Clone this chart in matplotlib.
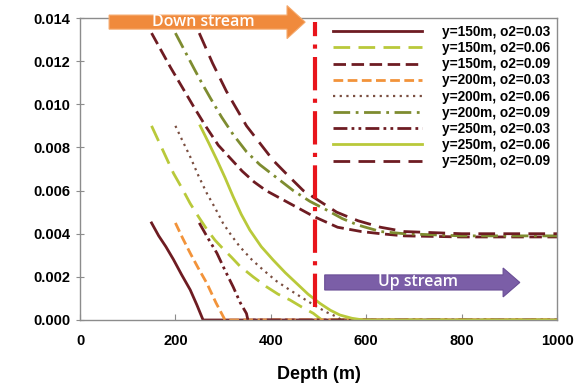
import matplotlib
matplotlib.use("Agg")
import matplotlib.pyplot as plt
from matplotlib.patches import FancyArrow

plt.rcParams['font.family'] = ['Liberation Sans', 'DejaVu Sans']

labels = ["y=150m, o2=0.03", "y=150m, o2=0.06", "y=150m, o2=0.09",
          "y=200m, o2=0.03", "y=200m, o2=0.06", "y=200m, o2=0.09",
          "y=250m, o2=0.03", "y=250m, o2=0.06", "y=250m, o2=0.09"]

d1 = [150, 165, 180, 196, 213, 231, 245, 258, 1000]
v1 = [0.0045, 0.0039, 0.0034, 0.0028, 0.0021, 0.0014, 0.0007, 0.0, 0.0]
d2 = [150, 173, 196, 214, 231, 248, 266, 283, 300, 318, 335, 363, 391, 415, 440, 465, 489, 507, 1000]
v2 = [0.0090, 0.0079, 0.0068, 0.0061, 0.0054, 0.0048, 0.0042, 0.0037, 0.0033, 0.0029, 0.0025,
      0.0020, 0.00154, 0.0012, 0.00093, 0.0006, 0.00031, 0.0, 0.0]
d3 = [150, 170, 190, 214, 238, 263, 290, 315, 340, 365, 390, 415, 440, 465, 490, 515, 540, 565,
      590, 630, 680, 800, 1000]
v3 = [0.0133, 0.0125, 0.0117, 0.0108, 0.0099, 0.0090, 0.0081, 0.0075, 0.0069, 0.0064, 0.0060,
      0.0057, 0.0054, 0.0051, 0.0048, 0.00455, 0.0043, 0.0042, 0.0041, 0.0040, 0.0039, 0.00385, 0.00385]
d4 = [200, 215, 231, 248, 266, 285, 304, 1000]
v4 = [0.0045, 0.0038, 0.0031, 0.0024, 0.0017, 0.0008, 0.0, 0.0]
d5 = [200, 215, 231, 248, 266, 283, 300, 318, 335, 360, 384, 412, 440, 468, 496, 518, 538, 548, 1000]
v5 = [0.0090, 0.0083, 0.00757, 0.0067, 0.00587, 0.0052, 0.00448, 0.0039, 0.0034, 0.0028, 0.00232,
      0.0018, 0.00139, 0.0010, 0.00062, 0.00035, 0.00015, 0.0, 0.0]
d6 = [200, 219, 238, 255, 273, 297, 321, 349, 377, 412, 447, 482, 517, 550, 583, 630, 680, 800, 1000]
v6 = [0.0133, 0.0125, 0.0117, 0.0110, 0.0103, 0.0094, 0.0086, 0.0078, 0.0072, 0.0066, 0.0060,
      0.0055, 0.0051, 0.0047, 0.0044, 0.0041, 0.0040, 0.0039, 0.0039]
d7 = [250, 268, 287, 304, 321, 336, 349, 352, 1000]
v7 = [0.0045, 0.0038, 0.0031, 0.0023, 0.00154, 0.0008, 0.0003, 0.0, 0.0]
d8 = [252, 270, 287, 304, 321, 338, 356, 380, 405, 430, 454, 478, 503, 525, 545, 570, 594, 1000]
v8 = [0.0090, 0.0082, 0.00742, 0.0066, 0.00572, 0.0049, 0.00417, 0.0034, 0.00278, 0.0022, 0.0017,
      0.0012, 0.00077, 0.00045, 0.00023, 0.00008, 0.0, 0.0]
d9 = [250, 278, 307, 328, 349, 377, 405, 436, 468, 503, 538, 560, 583, 630, 680, 800, 1000]
v9 = [0.0133, 0.0119, 0.0106, 0.0098, 0.0090, 0.0082, 0.0074, 0.0067, 0.0060, 0.0055, 0.0050,
      0.0048, 0.0046, 0.0043, 0.0041, 0.0040, 0.0040]

xs = [d1, d2, d3, d4, d5, d6, d7, d8, d9]
ys = [v1, v2, v3, v4, v5, v6, v7, v8, v9]

maroon = '#6E1C22'
ygreen = '#B9C93A'
orange = '#F2933A'
brown = '#7A4E40'
olive = '#7E8C30'
styles = [
    dict(color=maroon, lw=2.0, ls='-'),
    dict(color=ygreen, lw=2.0, ls=(0, (6, 3))),
    dict(color=maroon, lw=2.0, ls=(0, (4.5, 2))),
    dict(color=orange, lw=2.0, ls=(0, (3.5, 1.6))),
    dict(color=brown, lw=1.6, ls=(0, (1, 2))),
    dict(color=olive, lw=2.0, ls=(0, (6, 2, 1, 2))),
    dict(color=maroon, lw=2.0, ls=(0, (5, 1.5, 1, 1.5, 1, 1.5))),
    dict(color=ygreen, lw=2.0, ls='-'),
    dict(color=maroon, lw=2.0, ls=(0, (6, 3))),
]

fig = plt.figure(figsize=(5.87, 3.83), dpi=100)
ax = fig.add_axes([0.1363, 0.1645, 0.8126, 0.7885])

for x, y, lab, st in zip(xs, ys, labels, styles):
    ax.plot(x, y, label=lab, **st)

# separation line
line_x = [493, 493]
line_y = [0.0006, 0.0138]
ax.plot(line_x, line_y, color='#E8141B', lw=3.0, ls=(0, (8, 2, 1, 2)), zorder=5)

ax.set_xlim(0, 1000)
ax.set_ylim(0, 0.014)
ax.set_xticks([0, 200, 400, 600, 800, 1000])
ax.set_yticks([0, 0.002, 0.004, 0.006, 0.008, 0.010, 0.012, 0.014])
ax.set_yticklabels(['0.000', '0.002', '0.004', '0.006', '0.008', '0.010', '0.012', '0.014'])
for s in ax.spines.values():
    s.set_color('#8C8C8C')
    s.set_linewidth(1.0)
ax.tick_params(axis='y', direction='inout', length=6, color='#8C8C8C', labelsize=10.5, pad=4)
ax.tick_params(axis='x', direction='in', length=4, color='#8C8C8C', labelsize=10.5, pad=10)
for t in ax.get_xticklabels() + ax.get_yticklabels():
    t.set_fontweight('bold')
ax.set_xlabel('Depth (m)', fontsize=13, fontweight='bold', labelpad=13)

leg = ax.legend(loc='upper left', bbox_to_anchor=(0.52, 0.995), frameon=False,
                prop=dict(size=9.8, weight='bold'), handlelength=6.5,
                handletextpad=1.45, labelspacing=0.16, borderaxespad=0)

# arrows
a1 = FancyArrow(61, 0.01381, 411, 0, width=0.00065, head_width=0.00153,
                head_length=38, length_includes_head=True, color='#F08A3C',
                ec='#F5A86A', lw=0.8, clip_on=False, zorder=6)
ax.add_patch(a1)
ax.text(258, 0.01381, 'Down stream', color='white', fontsize=11.5, ha='center',
        va='center', family='Open Sans', fontweight='semibold', zorder=7, clip_on=False)
a2 = FancyArrow(513, 0.00174, 409, 0, width=0.0007, head_width=0.00134,
                head_length=35, length_includes_head=True, color='#7B5EA7',
                ec='#6A4E96', lw=0.8, zorder=6)
ax.add_patch(a2)
ax.text(709, 0.00174, 'Up stream', color='white', fontsize=11.5, ha='center',
        va='center', family='Open Sans', fontweight='semibold', zorder=7)

fig.savefig('out.png', dpi=100)
